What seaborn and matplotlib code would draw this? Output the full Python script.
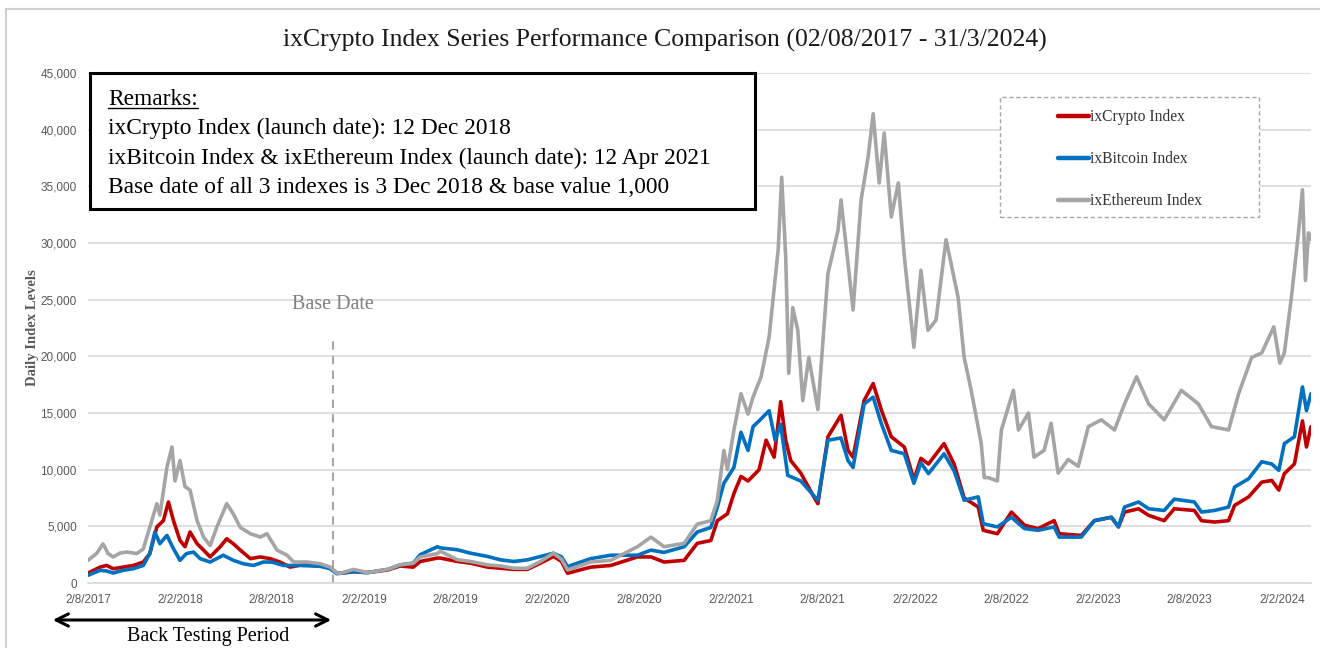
import numpy as np
import pandas as pd
import matplotlib
matplotlib.use("Agg")
import matplotlib.pyplot as plt
from matplotlib.patches import Rectangle, FancyArrowPatch
from matplotlib.lines import Line2D
import seaborn as sns

# ---------------- data ----------------
series_names = ["ixCrypto Index", "ixBitcoin Index", "ixEthereum Index"]
series_colors = ["#C00000", "#0070C0", "#A5A5A5"]

crypto_dates = [
    "2017-08-02", "2017-08-26", "2017-09-08", "2017-09-21", "2017-10-11", "2017-10-31", "2017-11-20",
    "2017-12-03", "2017-12-17", "2017-12-30", "2018-01-09", "2018-01-19", "2018-02-01", "2018-02-11",
    "2018-02-21", "2018-03-07", "2018-03-20", "2018-04-02", "2018-04-22", "2018-05-05", "2018-05-18",
    "2018-06-01", "2018-06-21", "2018-07-11", "2018-07-30", "2018-08-19", "2018-09-08", "2018-10-12",
    "2018-11-07", "2018-11-27", "2018-12-10", "2018-12-17", "2019-01-12", "2019-02-09", "2019-03-21",
    "2019-04-15", "2019-05-11", "2019-05-25", "2019-06-28", "2019-07-04", "2019-08-07", "2019-09-02",
    "2019-10-06", "2019-11-01", "2019-11-27", "2019-12-24", "2020-01-19", "2020-02-14", "2020-03-01",
    "2020-03-13", "2020-04-28", "2020-06-07", "2020-07-30", "2020-08-26", "2020-09-21", "2020-10-31",
    "2020-11-26", "2020-12-23", "2021-01-05", "2021-01-25", "2021-02-07", "2021-02-21", "2021-03-07",
    "2021-03-29", "2021-04-12", "2021-04-28", "2021-05-11", "2021-05-21", "2021-05-31", "2021-06-20",
    "2021-07-16", "2021-07-24", "2021-08-13", "2021-09-08", "2021-09-22", "2021-10-02", "2021-10-24",
    "2021-11-11", "2021-11-27", "2021-12-17", "2022-01-12", "2022-01-31", "2022-02-14", "2022-03-01",
    "2022-04-01", "2022-04-21", "2022-05-11", "2022-06-08", "2022-06-18", "2022-07-16", "2022-08-13",
    "2022-09-08", "2022-10-05", "2022-11-06", "2022-11-16", "2022-12-30", "2023-01-25", "2023-02-28",
    "2023-03-14", "2023-03-26", "2023-04-23", "2023-05-13", "2023-06-13", "2023-07-03", "2023-08-12",
    "2023-08-26", "2023-09-21", "2023-10-19", "2023-10-31", "2023-11-28", "2023-12-24", "2024-01-13",
    "2024-01-27", "2024-02-07", "2024-02-27", "2024-03-14", "2024-03-22", "2024-03-31",
]
crypto_values = [
    880, 1400, 1550, 1260, 1400, 1550, 1850,
    2600, 4950, 5500, 7150, 5500, 3760, 3200,
    4500, 3470, 2900, 2300, 3200, 3900, 3470,
    2900, 2150, 2300, 2150, 1850, 1400, 1700,
    1550, 1350, 880, 860, 1000, 920, 1150,
    1500, 1400, 1900, 2200, 2200, 1900, 1750,
    1400, 1300, 1200, 1200, 1750, 2340, 1900,
    860, 1400, 1550, 2300, 2300, 1850, 2000,
    3500, 3750, 5500, 6100, 7900, 9400, 9000,
    10000, 12600, 11100, 16000, 12600, 10800, 9700,
    7600, 7000, 12900, 14800, 11700, 11100, 16100,
    17600, 15300, 12900, 12000, 9100, 11000, 10500,
    12300, 10500, 7500, 6700, 4650, 4350, 6260,
    5100, 4800, 5500, 4350, 4200, 5500, 5800,
    4950, 6260, 6550, 5970, 5500, 6550, 6400,
    5500, 5380, 5500, 6850, 7600, 8900, 9050,
    8200, 9650, 10500, 14300, 12000, 13800,
]

bitcoin_dates = [
    "2017-08-02", "2017-08-26", "2017-09-08", "2017-09-21", "2017-10-11", "2017-10-31", "2017-11-20",
    "2017-12-03", "2017-12-13", "2017-12-23", "2018-01-06", "2018-01-19", "2018-02-01", "2018-02-14",
    "2018-02-28", "2018-03-13", "2018-04-02", "2018-04-28", "2018-05-18", "2018-06-07", "2018-06-27",
    "2018-07-17", "2018-08-02", "2018-08-26", "2018-09-28", "2018-11-07", "2018-11-27", "2018-12-10",
    "2018-12-17", "2019-01-12", "2019-02-09", "2019-03-21", "2019-04-15", "2019-05-11", "2019-05-25",
    "2019-06-28", "2019-07-04", "2019-08-07", "2019-09-02", "2019-10-06", "2019-11-01", "2019-11-27",
    "2019-12-24", "2020-01-19", "2020-02-14", "2020-03-01", "2020-03-13", "2020-04-28", "2020-06-07",
    "2020-07-30", "2020-08-26", "2020-09-21", "2020-10-31", "2020-11-26", "2020-12-23", "2021-01-05",
    "2021-01-18", "2021-02-07", "2021-02-21", "2021-03-07", "2021-03-17", "2021-03-29", "2021-04-18",
    "2021-04-30", "2021-05-11", "2021-05-25", "2021-06-20", "2021-07-24", "2021-08-13", "2021-09-08",
    "2021-09-22", "2021-10-02", "2021-10-24", "2021-11-11", "2021-11-27", "2021-12-17", "2022-01-12",
    "2022-01-31", "2022-02-14", "2022-03-01", "2022-04-01", "2022-04-21", "2022-05-11", "2022-06-08",
    "2022-06-18", "2022-07-16", "2022-08-13", "2022-09-08", "2022-10-05", "2022-11-06", "2022-11-16",
    "2022-12-30", "2023-01-25", "2023-02-28", "2023-03-14", "2023-03-26", "2023-04-23", "2023-05-13",
    "2023-06-13", "2023-07-03", "2023-08-12", "2023-08-26", "2023-09-21", "2023-10-19", "2023-10-31",
    "2023-11-28", "2023-12-24", "2024-01-13", "2024-01-27", "2024-02-07", "2024-02-27", "2024-03-14",
    "2024-03-22", "2024-03-31",
]
bitcoin_values = [
    680, 1120, 1060, 880, 1120, 1260, 1550,
    2600, 4500, 3470, 4200, 3030, 2000, 2600,
    2730, 2150, 1850, 2450, 2000, 1700, 1550,
    1850, 1850, 1550, 1550, 1470, 1260, 820,
    860, 1000, 920, 1200, 1600, 1750, 2500,
    3200, 3100, 2930, 2630, 2340, 2040, 1900,
    2040, 2340, 2630, 2300, 1450, 2150, 2450,
    2450, 2900, 2700, 3200, 4500, 4900, 6700,
    8800, 10200, 13300, 11700, 13800, 14300, 15200,
    12600, 14000, 9500, 9000, 7300, 12600, 12800,
    10800, 10200, 15800, 16400, 14100, 11700, 11400,
    8800, 10600, 9650, 11400, 9900, 7300, 7600,
    5230, 4950, 5800, 4800, 4650, 4950, 4050,
    4050, 5500, 5800, 4950, 6700, 7150, 6550,
    6400, 7400, 7150, 6260, 6400, 6700, 8470,
    9200, 10700, 10500, 9940, 12300, 12900, 17300,
    15200, 16700,
]

ethereum_dates = [
    "2017-08-02", "2017-08-19", "2017-09-01", "2017-09-11", "2017-09-21", "2017-10-05", "2017-10-18",
    "2017-11-07", "2017-11-20", "2017-11-27", "2017-12-17", "2017-12-23", "2018-01-06", "2018-01-16",
    "2018-01-22", "2018-02-01", "2018-02-11", "2018-02-21", "2018-03-07", "2018-03-20", "2018-04-02",
    "2018-04-15", "2018-05-05", "2018-05-18", "2018-06-01", "2018-06-21", "2018-07-11", "2018-07-24",
    "2018-08-13", "2018-09-02", "2018-09-15", "2018-10-12", "2018-11-07", "2018-11-27", "2018-12-10",
    "2018-12-17", "2019-01-12", "2019-02-09", "2019-03-21", "2019-04-15", "2019-05-11", "2019-05-25",
    "2019-06-28", "2019-07-04", "2019-08-07", "2019-09-02", "2019-10-06", "2019-11-01", "2019-11-27",
    "2019-12-24", "2020-01-19", "2020-02-14", "2020-03-01", "2020-03-13", "2020-04-28", "2020-06-07",
    "2020-07-30", "2020-08-26", "2020-09-21", "2020-10-31", "2020-11-26", "2020-12-23", "2021-01-05",
    "2021-01-18", "2021-01-25", "2021-02-07", "2021-02-21", "2021-03-07", "2021-03-17", "2021-04-02",
    "2021-04-18", "2021-05-06", "2021-05-13", "2021-05-21", "2021-05-27", "2021-06-04", "2021-06-14",
    "2021-06-24", "2021-07-06", "2021-07-24", "2021-08-13", "2021-09-02", "2021-09-08", "2021-09-22",
    "2021-10-02", "2021-10-18", "2021-11-01", "2021-11-11", "2021-11-23", "2021-12-03", "2021-12-17",
    "2021-12-31", "2022-01-12", "2022-01-31", "2022-02-14", "2022-02-28", "2022-03-16", "2022-04-05",
    "2022-04-29", "2022-05-11", "2022-05-25", "2022-06-14", "2022-06-20", "2022-06-28", "2022-07-16",
    "2022-07-24", "2022-08-17", "2022-08-27", "2022-09-16", "2022-09-27", "2022-10-17", "2022-10-31",
    "2022-11-14", "2022-12-04", "2022-12-24", "2023-01-13", "2023-02-08", "2023-03-06", "2023-03-26",
    "2023-04-19", "2023-05-13", "2023-06-13", "2023-07-17", "2023-08-20", "2023-09-15", "2023-10-19",
    "2023-11-08", "2023-12-04", "2023-12-24", "2024-01-17", "2024-01-29", "2024-02-07", "2024-02-21",
    "2024-03-06", "2024-03-14", "2024-03-20", "2024-03-26", "2024-03-31",
]
ethereum_values = [
    2000, 2600, 3450, 2600, 2300, 2650, 2730,
    2600, 3000, 4050, 7000, 6000, 10200, 12000,
    9000, 10800, 8500, 8200, 5500, 4050, 3300,
    4900, 7000, 6100, 4900, 4350, 4050, 4350,
    2900, 2450, 1850, 1850, 1700, 1400, 880,
    860, 1200, 920, 1200, 1600, 1750, 2300,
    2600, 2800, 2050, 1900, 1600, 1500, 1300,
    1300, 1900, 2630, 2100, 1150, 1850, 2000,
    3200, 4050, 3200, 3500, 5200, 5500, 7300,
    11700, 10000, 13500, 16700, 14900, 16400, 18200,
    21700, 29400, 35800, 28800, 18500, 24300, 22300,
    16100, 19900, 15300, 27300, 31100, 33800, 28200,
    24100, 33800, 37600, 41400, 35300, 39700, 32300,
    35300, 28800, 20800, 27600, 22300, 23200, 30300,
    25200, 19900, 17000, 12300, 9300, 9300, 9000,
    13500, 17000, 13500, 15000, 11100, 11700, 14100,
    9700, 10900, 10300, 13800, 14400, 13500, 15800,
    18200, 15800, 14400, 17000, 15800, 13800, 13500,
    16700, 19900, 20300, 22600, 19400, 20300, 25200,
    30900, 34700, 26700, 30900, 30300,
]

tick_dates = ["2017-08-02", "2018-02-02", "2018-08-02", "2019-02-02", "2019-08-02", "2020-02-02",
              "2020-08-02", "2021-02-02", "2021-08-02", "2022-02-02", "2022-08-02", "2023-02-02",
              "2023-08-02", "2024-02-02"]
tick_labels = ["2/8/2017", "2/2/2018", "2/8/2018", "2/2/2019", "2/8/2019", "2/2/2020", "2/8/2020",
               "2/2/2021", "2/8/2021", "2/2/2022", "2/8/2022", "2/2/2023", "2/8/2023", "2/2/2024"]
y_ticks = [0, 5000, 10000, 15000, 20000, 25000, 30000, 35000, 40000, 45000]
start_date = "2017-08-02"
end_date = "2024-03-31"
base_date = "2018-12-03"
base_line_top = 21700

title_text = "ixCrypto Index Series Performance Comparison (02/08/2017 - 31/3/2024)"
remarks_head = "Remarks:"
remarks_lines = [
    "ixCrypto Index (launch date): 12 Dec 2018",
    "ixBitcoin Index & ixEthereum Index (launch date): 12 Apr 2021",
    "Base date of all 3 indexes is 3 Dec 2018 & base value 1,000",
]

# ---------------- build long table ----------------
frames = []
for name, d, v in [(series_names[0], crypto_dates, crypto_values),
                   (series_names[1], bitcoin_dates, bitcoin_values),
                   (series_names[2], ethereum_dates, ethereum_values)]:
    frames.append(pd.DataFrame({"date": pd.to_datetime(d), "value": v, "series": name}))
df = pd.concat(frames, ignore_index=True)

# ---------------- style ----------------
sns.set_theme(style="white")
plt.rcParams["font.family"] = ["Liberation Serif", "DejaVu Sans"]

W, H = 1320, 648
fig = plt.figure(figsize=(W / 100, H / 100), dpi=100)
fig.patch.set_facecolor("white")

def fx(px):
    return px / W

def fy(py):
    return 1 - py / H

ax = fig.add_axes([fx(88), fy(583), (1311 - 88) / W, (583 - 73) / H])
ax.set_facecolor("white")

sns.lineplot(data=df, x="date", y="value", hue="series", hue_order=series_names,
             palette=dict(zip(series_names, series_colors)), linewidth=2.6,
             estimator=None, legend=False, ax=ax)

ax.set_xlim(pd.Timestamp(start_date), pd.Timestamp(end_date))
ax.set_ylim(0, 45000)
ax.set_yticks(y_ticks)
ax.set_yticklabels([f"{v:,}" for v in y_ticks], fontfamily="Liberation Sans", fontsize=8.5, color="#595959")
ax.set_xticks(pd.to_datetime(tick_dates))
ax.set_xticklabels(tick_labels, fontfamily="Liberation Sans", fontsize=8.5, color="#595959")
ax.tick_params(axis="y", length=0, pad=8)
ax.tick_params(axis="x", length=4, width=1, color="#bfbfbf", pad=4, direction="out")
ax.yaxis.grid(True, color="#d9d9d9", linewidth=1.2)
ax.xaxis.grid(False)
ax.set_axisbelow(True)
for s in ["top", "right", "left"]:
    ax.spines[s].set_visible(False)
ax.spines["bottom"].set_color("#d9d9d9")
ax.spines["bottom"].set_linewidth(1.2)
ax.set_xlabel("")
ax.set_ylabel("Daily Index Levels", fontsize=10.5, fontweight="bold", color="#595959")
ax.yaxis.set_label_coords(-0.040, 0.5)

# base date marker
bd = pd.Timestamp(base_date)
ax.vlines(bd, 0, base_line_top, colors="#a6a6a6", linestyles=(0, (4, 3)), linewidth=1.5, zorder=1.5)
ax.text(bd, 24600, "Base Date", ha="center", va="center", fontsize=14.5, color="#7f7f7f")

# title
fig.text(fx(665), fy(40), title_text, ha="center", va="center", fontsize=18.5, color="#1a1a1a")

# remarks box
rbox = Rectangle((fx(90), fy(209)), fx(755) - fx(90), fy(73) - fy(209), transform=fig.transFigure,
                 facecolor="white", edgecolor="black", linewidth=2.2, zorder=4, clip_on=False)
ax.add_patch(rbox)
head = fig.text(fx(108), fy(105), remarks_head, ha="left", va="baseline", fontsize=16.8, color="black", zorder=6)
for i, line in enumerate(remarks_lines):
    fig.text(fx(108), fy(134 + 29.5 * i), line, ha="left", va="baseline", fontsize=16.8, color="black", zorder=6)

# legend box
lbox = Rectangle((fx(1000), fy(217)), fx(1259) - fx(1000), fy(97) - fy(217), transform=fig.transFigure,
                 facecolor="white", edgecolor="#a6a6a6", linewidth=1.0, linestyle=(0, (3, 2)),
                 zorder=4, clip_on=False)
ax.add_patch(lbox)
handles = [Line2D([0], [0], color=c, lw=3.2) for c in series_colors]
leg = ax.legend(handles, series_names, loc="upper left", bbox_to_anchor=(fx(1058), fy(109)),
                bbox_transform=fig.transFigure, frameon=False, handlelength=2.0, handletextpad=0.05,
                labelspacing=1.68, borderaxespad=0, borderpad=0,
                prop={"family": "Liberation Serif", "size": 11.2})
for t in leg.get_texts():
    t.set_color("#333333")
leg.set_zorder(6)

# back testing arrow
fig.patches.append(FancyArrowPatch(
    (fx(50), fy(620)), (fx(334), fy(620)), transform=fig.transFigure, arrowstyle="<->",
    mutation_scale=22, linewidth=2.2, color="black"))
fig.text(fx(208), fy(637), "Back Testing Period", ha="center", va="center", fontsize=14.5, color="black")

# outer frame
fig.add_artist(Line2D([fx(6), fx(1320)], [fy(9), fy(9)], transform=fig.transFigure, color="#d0d0d0", lw=1.5))
fig.add_artist(Line2D([fx(6), fx(6)], [fy(9), fy(648)], transform=fig.transFigure, color="#d0d0d0", lw=1.5))

# underline for "Remarks:"
fig.canvas.draw()
bb = head.get_window_extent()
fig.add_artist(Line2D([bb.x0 / W, bb.x1 / W], [fy(108), fy(108)], transform=fig.transFigure,
                      color="black", lw=1.0))

fig.savefig("out.png", dpi=100, facecolor="white")
